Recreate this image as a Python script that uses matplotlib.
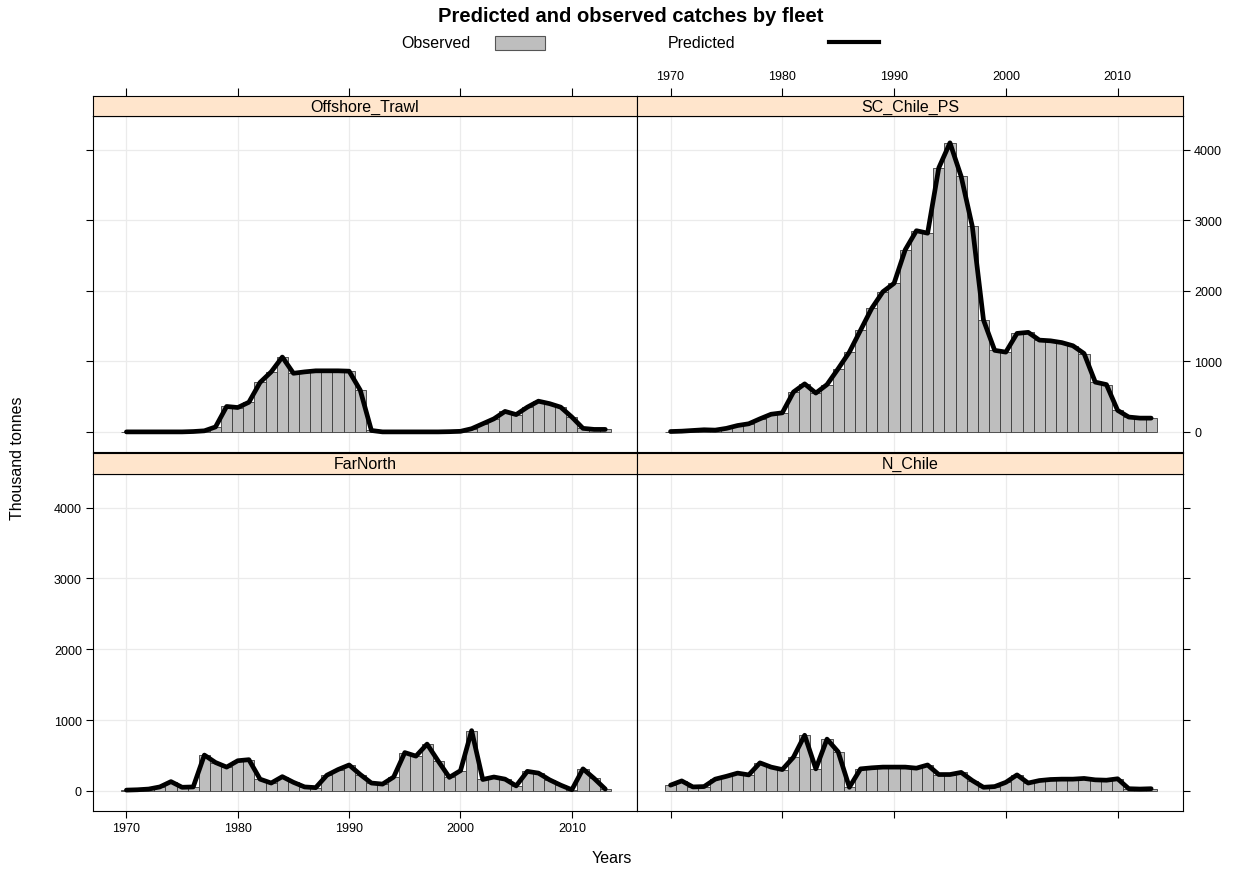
import matplotlib
matplotlib.use("Agg")
import matplotlib.pyplot as plt
from matplotlib.patches import Rectangle
from matplotlib.lines import Line2D

plt.rcParams['font.family'] = ['Liberation Sans', 'DejaVu Sans']

years = list(range(1970, 2014))
fleets = ["Offshore_Trawl", "SC_Chile_PS", "FarNorth", "N_Chile"]

obs_offshore = [0, 0, 0, 0, 0, 0, 5, 15, 70, 360, 345, 420, 700, 850, 1060, 830,
                850, 865, 865, 865, 860, 590, 20, 0, 0, 0, 0, 0, 0, 3,
                8, 45, 115, 185, 290, 245, 350, 435, 400, 350, 210, 50, 35, 35]
pred_offshore = [0, 0, 0, 0, 0, 0, 5, 15, 70, 360, 345, 420, 700, 850, 1060, 830,
                 850, 865, 865, 865, 860, 590, 20, 0, 0, 0, 0, 0, 0, 3,
                 8, 45, 115, 185, 290, 245, 350, 435, 400, 350, 210, 50, 35, 35]

obs_sc = [5, 10, 20, 30, 25, 50, 90, 115, 185, 250, 270, 565, 680, 550, 670, 895,
          1130, 1440, 1750, 1985, 2105, 2580, 2850, 2815, 3740, 4095, 3620, 2910, 1585, 1155,
          1130, 1395, 1410, 1300, 1290, 1265, 1220, 1110, 705, 670, 305, 210, 195, 195]
pred_sc = [5, 10, 20, 30, 25, 50, 90, 115, 185, 250, 270, 565, 680, 550, 670, 895,
           1130, 1440, 1750, 1985, 2105, 2580, 2850, 2815, 3740, 4095, 3620, 2910, 1585, 1155,
           1130, 1395, 1410, 1300, 1290, 1265, 1220, 1110, 705, 670, 305, 210, 195, 195]

obs_farnorth = [10, 15, 25, 55, 130, 50, 55, 505, 400, 335, 425, 440, 165, 110, 200, 120,
                55, 45, 220, 300, 365, 230, 110, 95, 195, 540, 490, 660, 420, 190,
                285, 850, 160, 195, 165, 70, 275, 250, 155, 80, 15, 310, 175, 25]
pred_farnorth = [10, 15, 25, 55, 130, 50, 55, 505, 400, 335, 425, 440, 165, 110, 200, 120,
                 55, 45, 220, 300, 365, 230, 110, 95, 195, 540, 490, 660, 420, 190,
                 285, 850, 160, 195, 165, 70, 275, 250, 155, 80, 15, 310, 175, 25]

obs_nchile = [80, 140, 55, 60, 165, 205, 250, 225, 395, 335, 300, 475, 785, 310, 730, 550,
              50, 310, 325, 335, 335, 335, 320, 365, 230, 230, 260, 145, 50, 60,
              120, 225, 110, 145, 160, 165, 165, 175, 155, 150, 170, 30, 25, 30]
pred_nchile = [80, 140, 55, 60, 165, 205, 250, 225, 395, 335, 300, 475, 785, 310, 730, 550,
               50, 310, 325, 335, 335, 335, 320, 365, 230, 230, 260, 145, 50, 60,
               120, 225, 110, 145, 160, 165, 165, 175, 155, 150, 170, 30, 25, 30]

x_ticks = [1970, 1980, 1990, 2000, 2010]
y_ticks = [0, 1000, 2000, 3000, 4000]

W, H = 1244, 878
fig = plt.figure(figsize=(W / 100, H / 100), dpi=100)


def rect(x0, y0, x1, y1):
    return [x0 / W, 1 - y1 / H, (x1 - x0) / W, (y1 - y0) / H]


XLIM = (1967.0, 2015.85)
YLIM = (-285, 4475)
BAR_C = '#BEBEBE'
STRIP_C = '#FFE5CC'

panels = [
    ("Offshore_Trawl", obs_offshore, pred_offshore, (93, 117, 637, 453), (93, 97, 637, 117), "TL"),
    ("SC_Chile_PS", obs_sc, pred_sc, (637, 117, 1183, 453), (637, 97, 1183, 117), "TR"),
    ("FarNorth", obs_farnorth, pred_farnorth, (93, 475, 637, 812), (93, 454, 637, 475), "BL"),
    ("N_Chile", obs_nchile, pred_nchile, (637, 475, 1183, 812), (637, 454, 1183, 475), "BR"),
]

for name, obs, pred, prect, srect, pos in panels:
    ax = fig.add_axes(rect(*prect))
    ax.set_xlim(*XLIM)
    ax.set_ylim(*YLIM)
    ax.set_xticks(x_ticks)
    ax.set_yticks(y_ticks)
    ax.grid(True, color='#EBEBEB', lw=0.9, zorder=0)
    ax.set_axisbelow(True)
    ax.bar(years, obs, width=1.0, color=BAR_C, edgecolor='#3A3A3A', linewidth=0.6, zorder=2)
    ax.plot(years, pred, color='black', lw=3.4, solid_joinstyle='round',
            solid_capstyle='round', zorder=3)
    for sp in ax.spines.values():
        sp.set_linewidth(0.8)
        sp.set_color('black')
    ax.tick_params(direction='out', length=5, width=0.8, colors='black', labelsize=9,
                   pad=3)
    if pos == "TL":
        ax.tick_params(left=True, labelleft=False, right=False, labelright=False,
                       bottom=False, labelbottom=False, top=False, labeltop=False)
    elif pos == "TR":
        ax.tick_params(left=False, labelleft=False, right=True, labelright=True,
                       bottom=False, labelbottom=False, top=False, labeltop=False)
    elif pos == "BL":
        ax.tick_params(left=True, labelleft=True, right=False, labelright=False,
                       bottom=True, labelbottom=True, top=False, labeltop=False)
    else:
        ax.tick_params(left=False, labelleft=False, right=True, labelright=False,
                       bottom=True, labelbottom=False, top=False, labeltop=False)

    sax = fig.add_axes(rect(*srect))
    sax.set_facecolor(STRIP_C)
    sax.set_xlim(*XLIM)
    sax.set_ylim(0, 1)
    sax.set_yticks([])
    sax.set_xticks(x_ticks)
    for sp in sax.spines.values():
        sp.set_linewidth(0.8)
        sp.set_color('black')
    sax.text(0.5, 0.5, name, transform=sax.transAxes, ha='center', va='center',
             fontsize=11.5)
    sax.tick_params(direction='out', length=6, width=0.8, colors='black', labelsize=9,
                    bottom=False, labelbottom=False, pad=4)
    if pos == "TL":
        sax.tick_params(top=True, labeltop=False)
    elif pos == "TR":
        sax.tick_params(top=True, labeltop=True)
    else:
        sax.tick_params(top=False, labeltop=False)

# Title and legend
fig.text(631 / W, 1 - 17 / H, "Predicted and observed catches by fleet", ha='center',
         va='center', fontsize=14.5, fontweight='bold')
fig.text(436 / W, 1 - 44 / H, "Observed", ha='center', va='center', fontsize=11.5)
fig.text(702 / W, 1 - 44 / H, "Predicted", ha='center', va='center', fontsize=11.5)
fig.patches.append(Rectangle((495 / W, 1 - 51 / H), 50 / W, 14 / H, transform=fig.transFigure,
                             facecolor=BAR_C, edgecolor='#555555', lw=0.8))
fig.lines.append(Line2D([829 / W, 879 / W], [1 - 43 / H, 1 - 43 / H], transform=fig.transFigure,
                        color='black', lw=3.0))

fig.text(18 / W, 1 - 458 / H, "Thousand tonnes", rotation=90, ha='center', va='center',
         fontsize=11.5)
fig.text(612 / W, 1 - 859 / H, "Years", ha='center', va='center', fontsize=11.5)

fig.savefig("out.png", dpi=100, facecolor='white')
